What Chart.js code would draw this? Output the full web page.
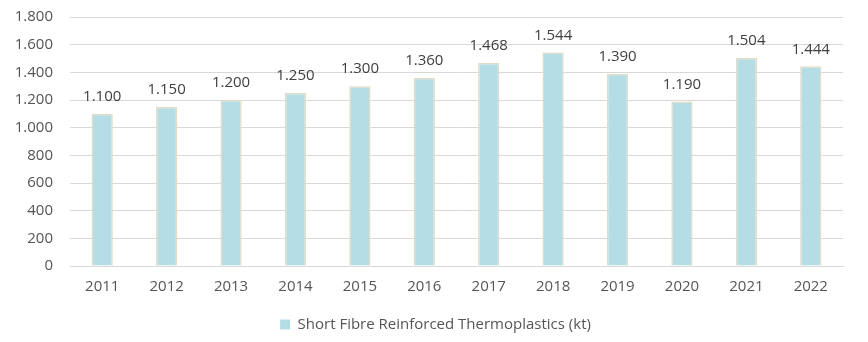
<!DOCTYPE html>
<html>
<head>
<meta charset="utf-8">
<script src="https://cdn.jsdelivr.net/npm/chart.js@4.4.0/dist/chart.umd.min.js"></script>
<style>
  html, body { margin: 0; padding: 0; background: #fff; }
  #wrap { width: 868px; height: 342px; position: relative; }
</style>
</head>
<body>
<div id="wrap"><canvas id="sfrtChart"></canvas></div>
<script>
// ── Data ──────────────────────────────────────────────────────
const years = ['2011', '2012', '2013', '2014', '2015', '2016', '2017', '2018', '2019', '2020', '2021', '2022'];
const volumes = [1100, 1150, 1200, 1250, 1300, 1360, 1468, 1544, 1390, 1190, 1504, 1444];
const seriesLabel = 'Short Fibre Reinforced Thermoplastics (kt)';
const yMax = 1800;
const yStep = 200;

const FONT = '"Open Sans", sans-serif';
const TEXT = '#555555';
const BAR = '#b5dde6';

// German-style thousands separator: 1.800
const fmt = v => String(v).replace(/\B(?=(\d{3})+(?!\d))/g, '.');

// ── Value labels above bars ───────────────────────────────────
const barValues = {
    id: 'barValues',
    afterDatasetsDraw(chart) {
        const { ctx } = chart;
        const meta = chart.getDatasetMeta(0);
        ctx.save();
        ctx.font = '15px ' + FONT;
        ctx.fillStyle = '#404040';
        ctx.textAlign = 'center';
        ctx.textBaseline = 'middle';
        meta.data.forEach((bar, i) => {
            ctx.fillText(fmt(chart.data.datasets[0].data[i]), bar.x, bar.y - 17);
        });
        ctx.restore();
    },
};

// ── Centre the legend on the whole canvas, not the padded area ─
const legendShift = {
    id: 'legendShift',
    afterLayout(chart) {
        const lg = chart.legend;
        if (!lg) return;
        lg.left += 14;
        lg.right += 14;
    },
};

new Chart(document.getElementById('sfrtChart'), {
    type: 'bar',
    data: {
        labels: years,
        datasets: [{
            label: seriesLabel,
            data: volumes,
            backgroundColor: BAR,
            borderColor: '#e2dcc6',
            borderWidth: 1.5,
            barPercentage: 0.66,
            categoryPercentage: 0.5,
        }],
    },
    options: {
        responsive: true,
        maintainAspectRatio: false,
        animation: false,
        layout: { padding: { top: 17, right: 25, bottom: 0, left: 0 } },
        plugins: {
            legend: {
                position: 'bottom',
                labels: {
                    color: TEXT,
                    font: { family: FONT, size: 15 },
                    boxWidth: 10,
                    boxHeight: 10,
                    padding: 10,
                    generateLabels: chart => [{
                        text: seriesLabel,
                        fillStyle: BAR,
                        strokeStyle: BAR,
                        lineWidth: 0,
                        fontColor: TEXT,
                        datasetIndex: 0,
                    }],
                },
            },
            tooltip: { enabled: false },
        },
        scales: {
            x: {
                grid: { display: false, drawTicks: false },
                border: { color: '#d9d9d9', width: 1 },
                ticks: { color: TEXT, font: { family: FONT, size: 15 }, padding: 12 },
                afterFit: s => { s.height = 41; },
            },
            y: {
                min: 0,
                max: yMax,
                grid: { color: '#d9d9d9', drawTicks: false },
                border: { display: false },
                ticks: {
                    stepSize: yStep,
                    color: TEXT,
                    font: { family: FONT, size: 15 },
                    padding: 17,
                    callback: v => fmt(v),
                },
                // keep the label gap from pushing the plot area down
                afterFit: s => { s.width = 70; s.paddingTop = 9; s.paddingBottom = 9; },
            },
        },
    },
    plugins: [barValues, legendShift],
});
</script>
</body>
</html>
